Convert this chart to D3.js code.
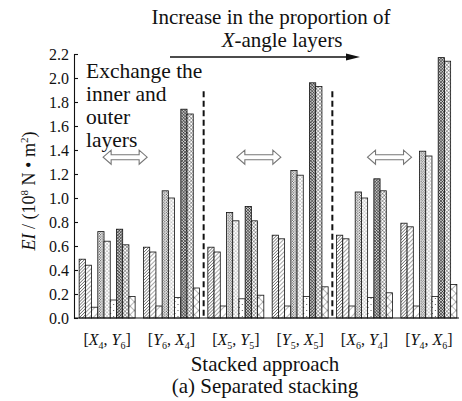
<!DOCTYPE html>
<html>
<head>
<meta charset="utf-8">
<script src="https://cdn.jsdelivr.net/npm/d3@7/dist/d3.min.js"></script>
<style>
  body { margin: 0; background: #fff; }
  text { font-family: "Liberation Serif", "Times New Roman", serif; fill: #111; }
</style>
</head>
<body>
<script>
// stacking schemes, read as letter+digit pairs
var categories = ["X4,Y6", "Y6,X4", "X5,Y5", "Y5,X5", "X6,Y4", "Y4,X6"];

// nine bars per scheme, in drawing order
var hatchA = [0.49, 0.59, 0.59, 0.69, 0.69, 0.79];
var hatchB = [0.44, 0.55, 0.55, 0.66, 0.66, 0.76];
var hatchC = [0.09, 0.10, 0.10, 0.10, 0.10, 0.10];
var dotA   = [0.72, 1.06, 0.88, 1.23, 1.05, 1.39];
var dotB   = [0.64, 1.00, 0.81, 1.19, 1.00, 1.35];
var dotC   = [0.15, 0.17, 0.16, 0.18, 0.17, 0.18];
var crossA = [0.74, 1.74, 0.93, 1.96, 1.16, 2.17];
var crossB = [0.61, 1.70, 0.81, 1.93, 1.06, 2.14];
var crossC = [0.18, 0.25, 0.19, 0.26, 0.21, 0.28];

var yTicks = [0, 0.2, 0.4, 0.6, 0.8, 1.0, 1.2, 1.4, 1.6, 1.8, 2.0, 2.2];

var seriesNames = ["hatchA", "hatchB", "hatchC", "dotA", "dotB", "dotC", "crossA", "crossB", "crossC"];
var seriesVals = [hatchA, hatchB, hatchC, dotA, dotB, dotC, crossA, crossB, crossC];

var width = 462, height = 401;
var plotL = 74, plotR = 459, plotT = 54, plotB = 318;

var svg = d3.select("body").append("svg")
  .attr("width", width)
  .attr("height", height);

// ---- fill patterns
var defs = svg.append("defs");

function linePattern(id, size, sw, both, bg) {
  var p = defs.append("pattern")
    .attr("id", id)
    .attr("patternUnits", "userSpaceOnUse")
    .attr("width", size).attr("height", size)
    .attr("patternTransform", "rotate(45)");
  p.append("rect").attr("width", size).attr("height", size).attr("fill", bg || "#fff");
  p.append("line").attr("x1", 0).attr("y1", 0).attr("x2", 0).attr("y2", size)
    .attr("stroke", "#111").attr("stroke-width", sw);
  if (both) {
    p.append("line").attr("x1", 0).attr("y1", 0).attr("x2", size).attr("y2", 0)
      .attr("stroke", "#111").attr("stroke-width", sw);
  }
}

function dotPattern(id, size, r) {
  var p = defs.append("pattern")
    .attr("id", id)
    .attr("patternUnits", "userSpaceOnUse")
    .attr("width", size).attr("height", size);
  p.append("rect").attr("width", size).attr("height", size).attr("fill", "#fff");
  p.append("circle").attr("cx", size / 4).attr("cy", size / 4).attr("r", r).attr("fill", "#222");
  p.append("circle").attr("cx", size * 3 / 4).attr("cy", size * 3 / 4).attr("r", r).attr("fill", "#222");
}

linePattern("hatchA", 2.2, 0.9);
linePattern("hatchB", 3.0, 0.75);
linePattern("hatchC", 6.0, 0.6);
dotPattern("dotA", 2.6, 0.55);
dotPattern("dotB", 3.6, 0.5);
dotPattern("dotC", 6.0, 0.5);
linePattern("crossA", 2.1, 0.85, true, "#ccc");
linePattern("crossB", 2.6, 0.65, true);
linePattern("crossC", 6.0, 0.6, true);

// ---- scales
var x0 = d3.scaleBand()
  .domain(categories)
  .range([plotL, plotR + 3])
  .paddingInner(0.13)
  .paddingOuter(0.08);

var x1 = d3.scaleBand()
  .domain(seriesNames)
  .range([0, x0.bandwidth()]);

var y = d3.scaleLinear()
  .domain([0, 2.2])
  .range([plotB, plotT]);

// ---- bars
var groups = svg.append("g").selectAll("g")
  .data(categories)
  .enter()
  .append("g")
    .attr("transform", function(d) { return "translate(" + x0(d) + ",0)"; });

groups.selectAll("rect")
  .data(function(d, i) {
    return seriesNames.map(function(s, j) { return {key: s, value: seriesVals[j][i]}; });
  })
  .enter()
  .append("rect")
    .attr("x", function(d) { return x1(d.key); })
    .attr("width", x1.bandwidth())
    .attr("y", function(d) { return y(d.value); })
    .attr("height", function(d) { return plotB - y(d.value); })
    .attr("fill", function(d) { return "url(#" + d.key + ")"; })
    .attr("stroke", "#111")
    .attr("stroke-width", 0.8);

// ---- axes
var yAxis = d3.axisLeft(y)
  .tickValues(yTicks)
  .tickSize(-4)
  .tickPadding(5)
  .tickFormat(d3.format(".1f"));

var gy = svg.append("g")
  .attr("transform", "translate(" + plotL + ",0)")
  .call(yAxis);
gy.selectAll("text").style("font-size", "16px").style("fill", "#111")
  .style("font-family", "'Liberation Serif', serif");
gy.selectAll("line, path").attr("stroke", "#111").attr("stroke-width", 1.1);

var xAxis = d3.axisBottom(x0).tickSize(0).tickSizeOuter(0).tickFormat("");
var gx = svg.append("g")
  .attr("transform", "translate(0," + plotB + ")")
  .call(xAxis);
gx.select(".domain").attr("stroke", "#111").attr("stroke-width", 1.1)
  .attr("d", "M" + plotL + ",0H" + plotR);

// category labels with italic letters and subscripts
gx.selectAll(".tick").each(function(d) {
  var parts = d.split(",");
  var t = d3.select(this).append("text")
    .attr("y", 27)
    .attr("text-anchor", "middle")
    .style("font-size", "16px")
    .style("font-family", "'Liberation Serif', serif");
  t.append("tspan").text("[");
  parts.forEach(function(p, k) {
    t.append("tspan").style("font-style", "italic").text(p[0]);
    t.append("tspan").attr("dy", 4).style("font-size", "10px").text(p.slice(1));
    t.append("tspan").attr("dy", -4).text(k === 0 ? ", " : "]");
  });
});

// ---- annotations
// dashed separators between scheme pairs
[[1, 2], [3, 4]].forEach(function(pair) {
  var xa = x0(categories[pair[0]]) + x0.bandwidth();
  var xb = x0(categories[pair[1]]);
  svg.append("line")
    .attr("x1", (xa + xb) / 2).attr("x2", (xa + xb) / 2)
    .attr("y1", y(1.89)).attr("y2", plotB)
    .attr("stroke", "#111")
    .attr("stroke-width", 2)
    .attr("stroke-dasharray", "6,3.5");
});

// hollow double arrows
function doubleArrow(cx, cy) {
  var L = 22, h = 7, s = 2.5, hl = 8;
  var pts = [
    [-L, 0], [-L + hl, -h], [-L + hl, -s], [L - hl, -s], [L - hl, -h],
    [L, 0], [L - hl, h], [L - hl, s], [-L + hl, s], [-L + hl, h]
  ];
  svg.append("path")
    .attr("d", "M" + pts.map(function(p) { return (cx + p[0]) + "," + (cy + p[1]); }).join("L") + "Z")
    .attr("fill", "#fff")
    .attr("stroke", "#777")
    .attr("stroke-width", 1.1);
}
doubleArrow(x0(categories[0]) + 46, y(1.34));
doubleArrow(x0(categories[2]) + 51, y(1.34));
doubleArrow(x0(categories[4]) + 53, y(1.34));

// top arrow and caption
svg.append("line")
  .attr("x1", 170).attr("x2", 348)
  .attr("y1", 57).attr("y2", 57)
  .attr("stroke", "#111").attr("stroke-width", 1.3);
svg.append("path")
  .attr("d", "M346,53.5L360,57L346,60.5Z")
  .attr("fill", "#111");

svg.append("text")
  .attr("x", 271).attr("y", 24)
  .attr("text-anchor", "middle")
  .style("font-size", "21px")
  .text("Increase in the proportion of");

var t2 = svg.append("text")
  .attr("x", 282).attr("y", 47)
  .attr("text-anchor", "middle")
  .style("font-size", "21px");
t2.append("tspan").style("font-style", "italic").text("X");
t2.append("tspan").text("-angle layers");

var exLines = ["Exchange the", "inner and", "outer", "layers"];
svg.append("g").selectAll("text")
  .data(exLines)
  .enter()
  .append("text")
    .attr("x", 86)
    .attr("y", function(d, i) { return 78 + i * 23; })
    .style("font-size", "21.5px")
    .text(function(d) { return d; });

// y axis title
var yt = svg.append("text")
  .attr("transform", "translate(35,191) rotate(-90)")
  .attr("text-anchor", "middle")
  .style("font-size", "18px");
yt.append("tspan").style("font-style", "italic").text("EI");
yt.append("tspan").text(" / (10");
yt.append("tspan").attr("dy", -7).style("font-size", "11px").text("8");
yt.append("tspan").attr("dy", 7).text(" N \u2022 m");
yt.append("tspan").attr("dy", -7).style("font-size", "11px").text("2");
yt.append("tspan").attr("dy", 7).text(")");

// x axis titles
svg.append("text")
  .attr("x", 265).attr("y", 371)
  .attr("text-anchor", "middle")
  .style("font-size", "21px")
  .text("Stacked approach");
svg.append("text")
  .attr("x", 265).attr("y", 393)
  .attr("text-anchor", "middle")
  .style("font-size", "21px")
  .text("(a) Separated stacking");
</script>
</body>
</html>
